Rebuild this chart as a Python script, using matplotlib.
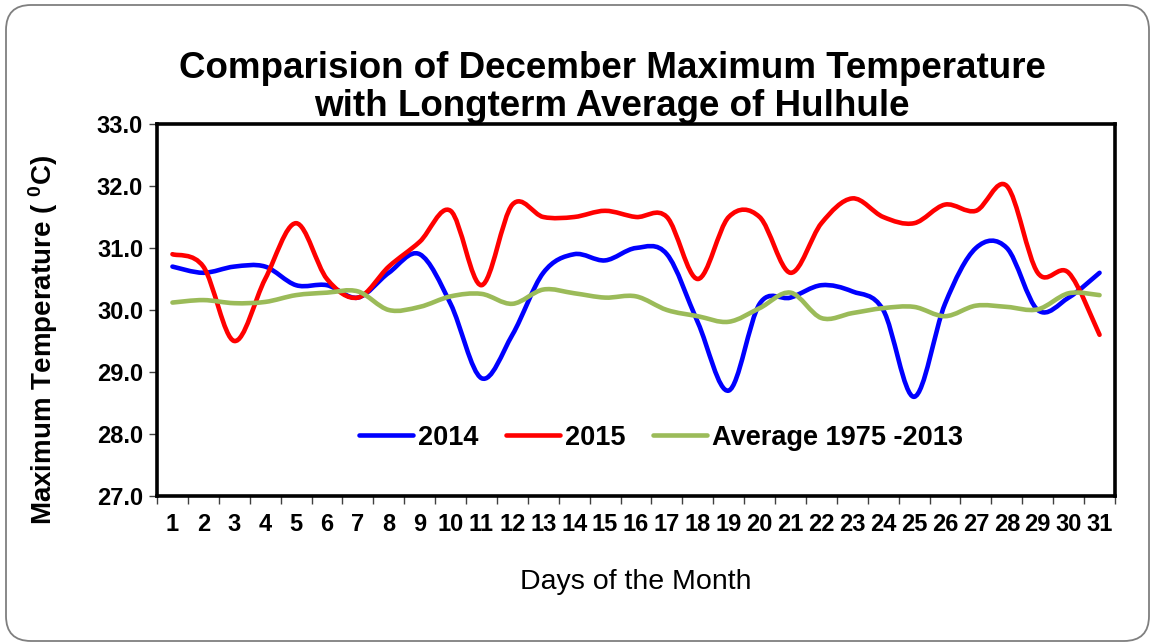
import numpy as np
import matplotlib
matplotlib.use("Agg")
import matplotlib.pyplot as plt
from matplotlib.path import Path
from matplotlib.patches import PathPatch, FancyBboxPatch
from matplotlib.lines import Line2D
from matplotlib.transforms import IdentityTransform

days = list(range(1, 32))
day_labels = [str(d) for d in days]

t2014 = [30.7, 30.6, 30.7, 30.7, 30.4, 30.4, 30.2, 30.6, 30.9, 30.1,
         28.9, 29.6, 30.6, 30.9, 30.8, 31.0, 30.9, 29.8, 28.7, 30.1,
         30.2, 30.4, 30.3, 30.0, 28.6, 30.1, 31.0, 31.0, 30.0, 30.2, 30.6]
t2015 = [30.9, 30.7, 29.5, 30.5, 31.4, 30.5, 30.2, 30.7, 31.1, 31.6,
         30.4, 31.7, 31.5, 31.5, 31.6, 31.5, 31.5, 30.5, 31.5, 31.5,
         30.6, 31.4, 31.8, 31.5, 31.4, 31.7, 31.6, 32.0, 30.6, 30.6, 29.6]
t_avg = [30.12, 30.16, 30.11, 30.13, 30.24, 30.28, 30.30, 30.00, 30.05, 30.22,
         30.26, 30.10, 30.33, 30.27, 30.20, 30.22, 30.00, 29.90, 29.81, 30.03,
         30.28, 29.87, 29.95, 30.03, 30.05, 29.90, 30.07, 30.05, 30.01, 30.27, 30.24]

series = [
    ("2014", t2014, "#0000FF"),
    ("2015", t2015, "#FF0000"),
    ("Average 1975 -2013", t_avg, "#9BBB59"),
]

plt.rcParams["font.family"] = ["Liberation Sans", "DejaVu Sans"]
plt.rcParams["mathtext.fontset"] = "custom"
plt.rcParams["mathtext.rm"] = "Liberation Sans:bold"
plt.rcParams["mathtext.default"] = "rm"


def smooth_path(x, y):
    # Excel-style smoothed line: cubic Bezier segments through every point
    p = np.column_stack([x, y]).astype(float)
    ext = np.vstack([p[0], p, p[-1]])
    verts = [p[0]]
    codes = [Path.MOVETO]
    for i in range(len(p) - 1):
        c1 = p[i] + (ext[i + 2] - ext[i]) / 6.0
        c2 = p[i + 1] - (ext[i + 3] - ext[i + 1]) / 6.0
        verts += [c1, c2, p[i + 1]]
        codes += [Path.CURVE4] * 3
    return Path(verts, codes)


fig = plt.figure(figsize=(11.53, 6.43), dpi=100)
ax = fig.add_axes([157 / 1153, 1 - 496 / 643, (1115 - 157) / 1153, (496 - 124) / 643])

handles = []
for name, vals, col in series:
    ax.add_patch(PathPatch(smooth_path(days, vals), facecolor="none",
                           edgecolor=col, lw=3.3, capstyle="round", joinstyle="round"))
    handles.append(Line2D([], [], color=col, lw=3.3, solid_capstyle="round", label=name))

ax.set_xlim(0.5, 31.5)
ax.set_ylim(27, 33)
ax.set_yticks(np.arange(27, 33.1, 1))
ax.set_yticklabels([f"{v:.1f}" for v in np.arange(27, 33.1, 1)], fontweight="bold", fontsize=17)

# tick marks on category boundaries, labels on category centres
ax.set_xticks(np.arange(0.5, 31.6, 1))
ax.set_xticklabels([])
ax.set_xticks(days, minor=True)
ax.set_xticklabels(day_labels, minor=True, fontweight="bold", fontsize=17)
ax.tick_params(axis="x", which="minor", length=0, pad=12)
ax.tick_params(axis="x", which="major", length=6, width=1, color="#404040", direction="out")
ax.tick_params(axis="y", length=6, width=1, color="#404040", direction="out", pad=4)

for s in ax.spines.values():
    s.set_linewidth(2.6)
    s.set_color("black")

ax.set_ylabel("Maximum Temperature ( $^{0}$C)", fontsize=20, fontweight="bold")
ax.yaxis.set_label_coords(-0.101, 0.42)
ax.set_xlabel("Days of the Month", fontsize=20.5, labelpad=24)

fig.text(0.531, 0.864, "Comparision of December Maximum Temperature\nwith Longterm Average of Hulhule",
         ha="center", va="center", fontsize=26.5, fontweight="bold", linespacing=1.12)

ax.legend(handles=handles, loc="center", bbox_to_anchor=(0.526, 0.156), ncol=3, frameon=False,
          prop={"weight": "bold", "size": 19.5}, handlelength=2.0, handletextpad=0.2,
          columnspacing=1.0)

fig.add_artist(FancyBboxPatch((6, 2), 1143, 636, boxstyle="round,pad=0,rounding_size=25",
                              transform=IdentityTransform(), facecolor="none",
                              edgecolor="#7f7f7f", lw=1.3))

fig.savefig("out.png", dpi=100)
